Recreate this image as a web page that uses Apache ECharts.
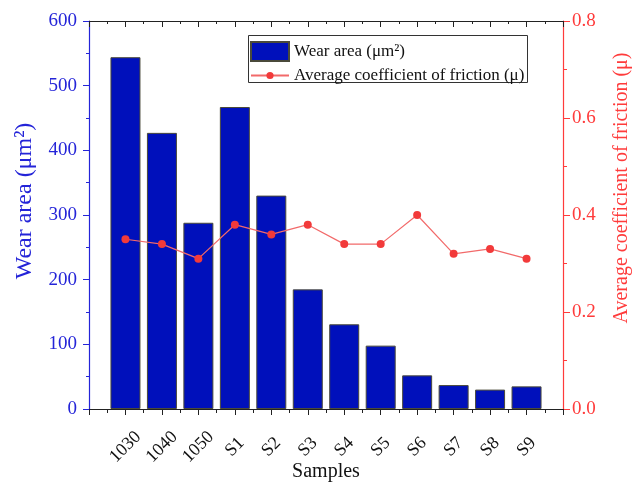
<!DOCTYPE html>
<html>
<head>
<meta charset="utf-8">
<script src="https://cdn.jsdelivr.net/npm/echarts@6/dist/echarts.min.js"></script>
<style>
  html, body { margin: 0; padding: 0; background: #fff; }
  #main { width: 642px; height: 483px; }
</style>
</head>
<body>
<div id="main"></div>
<script>
const samples = ["1030", "1040", "1050", "S1", "S2", "S3", "S4", "S5", "S6", "S7", "S8", "S9"];
const wearArea = [544, 427, 288, 467, 330, 185, 131, 98, 52, 37, 30, 35];
const friction = [0.35, 0.34, 0.31, 0.38, 0.36, 0.38, 0.34, 0.34, 0.40, 0.32, 0.33, 0.31];

const font = "'Liberation Serif', 'DejaVu Serif', serif";
const blue = "#2424d8";
const red = "#ff3b3b";

// samples sit at x = 1..12 on a 0..13 axis, like the original plot
const barData = wearArea.map((v, i) => [i + 1, v]);
const lineData = friction.map((v, i) => [i + 1, v]);

const chart = echarts.init(document.getElementById("main"));

const option = {
  animation: false,
  grid: { left: 89, right: 79, top: 21, bottom: 74, containLabel: false, outerBoundsMode: "none" },
  graphic: [
    {
      type: "rect",
      left: 248, top: 35,
      shape: { width: 279, height: 47 },
      style: { fill: "#fff", stroke: "#333", lineWidth: 1 },
      z: 50
    }
  ],
  legend: [
    {
      data: [{ name: "Wear area (μm²)", icon: "rect" }],
      left: 245, top: 36,
      itemWidth: 38, itemHeight: 19, itemGap: 4,
      textStyle: { fontFamily: font, fontSize: 17, color: "#111" },
      z: 60
    },
    {
      data: ["Average coefficient of friction (μ)"],
      left: 245, top: 62,
      itemWidth: 38, itemHeight: 9, itemGap: 4,
      textStyle: { fontFamily: font, fontSize: 17, color: "#111" },
      z: 60
    }
  ],
  xAxis: [
    {
      type: "value",
      min: 0, max: 13, interval: 1,
      position: "bottom",
      name: "Samples",
      nameLocation: "middle",
      nameGap: 53,
      nameMoveOverlap: false,
      nameTextStyle: { fontFamily: font, fontSize: 20, color: "#111" },
      axisLine: { onZero: false, lineStyle: { color: "#222", width: 1.2 } },
      axisTick: { length: 6, lineStyle: { color: "#222" } },
      minorTick: { show: true, splitNumber: 2, length: 4, lineStyle: { color: "#222" } },
      splitLine: { show: false },
      axisLabel: {
        rotate: 45,
        align: "center",
        verticalAlign: "middle",
        margin: 38,
        fontFamily: font, fontSize: 18, color: "#111",
        formatter: v => samples[v - 1] || ""
      }
    },
    {
      type: "value",
      min: 0, max: 13, interval: 1,
      position: "top",
      axisLine: { onZero: false, lineStyle: { color: "#222", width: 1.2 } },
      axisTick: { inside: true, length: 6, lineStyle: { color: "#222" } },
      minorTick: { show: true, splitNumber: 2, length: 3, lineStyle: { color: "#222" } },
      splitLine: { show: false },
      axisLabel: { show: false }
    }
  ],
  yAxis: [
    {
      type: "value",
      min: 0, max: 600, interval: 100,
      position: "left",
      name: "Wear area (μm²)",
      nameLocation: "middle",
      nameGap: 52,
      nameTextStyle: { fontFamily: font, fontSize: 24, color: blue, padding: [0, 0, 0, 28] },
      axisLine: { show: true, onZero: false, lineStyle: { color: blue, width: 1.2 } },
      axisTick: { show: true, length: 6, lineStyle: { color: blue } },
      minorTick: { show: true, splitNumber: 2, length: 3, lineStyle: { color: blue } },
      splitLine: { show: false },
      axisLabel: { margin: 12, fontFamily: font, fontSize: 19, color: blue }
    },
    {
      type: "value",
      min: 0, max: 0.8, interval: 0.2,
      position: "right",
      name: "Average coefficient of friction (μ)",
      nameLocation: "middle",
      nameGap: 49,
      nameRotate: 90,
      nameTextStyle: { fontFamily: font, fontSize: 20, color: red, padding: [0, 0, 0, 54] },
      axisLine: { show: true, onZero: false, lineStyle: { color: red, width: 1.2 } },
      axisTick: { show: true, length: 7, lineStyle: { color: red } },
      minorTick: { show: true, splitNumber: 2, length: 4, lineStyle: { color: red } },
      splitLine: { show: false },
      axisLabel: {
        margin: 9, fontFamily: font, fontSize: 19, color: red,
        formatter: v => v.toFixed(1)
      }
    }
  ],
  series: [
    {
      name: "Wear area (μm²)",
      type: "bar",
      xAxisIndex: 0,
      yAxisIndex: 0,
      barWidth: 30,
      data: barData,
      itemStyle: { color: "#0010bb", borderColor: "#4a4a3a", borderWidth: 1 }
    },
    {
      name: "Average coefficient of friction (μ)",
      type: "line",
      xAxisIndex: 0,
      yAxisIndex: 1,
      data: lineData,
      symbol: "circle",
      symbolSize: 8,
      lineStyle: { color: "#f26a6a", width: 1.2 },
      itemStyle: { color: "#f23a3a" },
      z: 5
    }
  ]
};

chart.setOption(option);
</script>
</body>
</html>
